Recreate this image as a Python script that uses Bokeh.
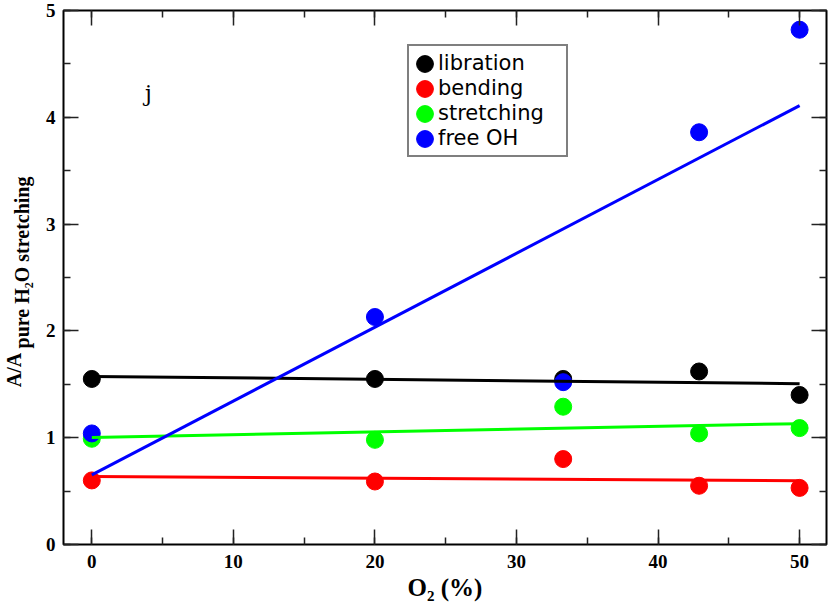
import numpy as np
from bokeh.plotting import figure
from bokeh.models import (Label, Legend, LegendItem, Range1d, LinearAxis,
                          SingleIntervalTicker)
from bokeh.embed import file_html
from bokeh.resources import INLINE

# ---- data ----
o2_percent = [0, 20, 33.3, 42.9, 50]
libration = [1.55, 1.55, 1.55, 1.62, 1.40]
bending = [0.60, 0.59, 0.80, 0.55, 0.53]
stretching = [0.99, 0.98, 1.29, 1.04, 1.09]
free_oh = [1.04, 2.13, 1.52, 3.86, 4.82]

series_names = ["libration", "bending", "stretching", "free OH"]
series_values = [libration, bending, stretching, free_oh]
series_colors = ["#000000", "#ff0000", "#00ff00", "#0000ff"]

x_title = "O\u2082 (%)"
y_title_main = "A/A"
y_title_sub = "pure H\u2082O stretching"

NBSP = "\u00a0"

p = figure(width=830, height=606,
           x_range=Range1d(-2, 51.9), y_range=Range1d(0, 5),
           output_backend="svg", toolbar_location=None,
           min_border_left=63, min_border_right=4,
           min_border_top=10, min_border_bottom=62)
p.background_fill_color = "white"
p.border_fill_color = "white"
p.grid.visible = False
p.outline_line_color = "black"
p.outline_line_width = 2

# mirrored axes (ticks only)
p.add_layout(LinearAxis(), "above")
p.add_layout(LinearAxis(), "right")

for ax in p.axis:
    ax.axis_line_color = None
    ax.major_tick_in = 15
    ax.major_tick_out = 0
    ax.minor_tick_in = 7
    ax.minor_tick_out = 0
    ax.major_tick_line_color = "#222222"
    ax.minor_tick_line_color = "#222222"
    ax.major_tick_line_width = 1.5
    ax.minor_tick_line_width = 1.5
    ax.major_label_text_font = "Liberation Serif"
    ax.major_label_text_font_style = "bold"
    ax.major_label_text_font_size = "19px"
    ax.major_label_text_color = "black"
    ax.axis_label_text_font = "Liberation Serif"
    ax.axis_label_text_font_style = "bold"
    ax.axis_label_text_color = "black"

for ax in p.xaxis:
    ax.ticker = SingleIntervalTicker(interval=10, num_minor_ticks=2)
for ax in p.yaxis:
    ax.ticker = SingleIntervalTicker(interval=1, num_minor_ticks=2)

for ax in (p.above[0], p.right[0]):
    ax.major_label_text_font_size = "1px"
    ax.major_label_text_color = None
    ax.major_label_standoff = 0

# bottom axis title
xb = p.below[0]
xb.major_label_standoff = 10
xb.axis_label = x_title
xb.axis_label_text_font_size = "25px"
xb.axis_label_standoff = 3

# left axis title: main part on the first line, subscript part on the second
yl = p.left[0]
yl.major_label_standoff = 8
yl.axis_label = (y_title_main + NBSP * 37 + "\n"
                 + NBSP * 8 + y_title_sub + NBSP * 2)
yl.axis_label_text_font_size = "20px"
yl.axis_label_text_line_height = 0.35
yl.axis_label_standoff = 10

# points (screen-sized circles)
renderers = []
for name, vals, col in zip(series_names, series_values, series_colors):
    r = p.ellipse(o2_percent, vals, width=17, height=17,
                  width_units="screen", height_units="screen",
                  fill_color=col, line_color=col)
    renderers.append(r)

# linear fits of each series
xa = np.array(o2_percent)
for vals, col in zip(series_values, series_colors):
    k, b = np.polyfit(xa, np.array(vals), 1)
    xs = [xa.min(), xa.max()]
    p.line(xs, [k * xs[0] + b, k * xs[1] + b], line_color=col, line_width=3)

legend = Legend(items=[LegendItem(label=n, renderers=[r])
                       for n, r in zip(series_names, renderers)],
                location=(344, 387))
legend.label_text_font = "DejaVu Sans"
legend.label_text_font_size = "21px"
legend.label_text_color = "black"
legend.padding = 5
legend.margin = 0
legend.spacing = 1
legend.label_standoff = 3
legend.glyph_width = 21
legend.glyph_height = 21
legend.label_height = 21
legend.label_width = 123
legend.border_line_color = "black"
legend.border_line_width = 2
legend.background_fill_color = "white"
legend.background_fill_alpha = 1
p.add_layout(legend)

# panel letter
p.add_layout(Label(x=4, y=4.22, text="j", text_font="DejaVu Serif",
                   text_font_size="22px", text_align="center",
                   text_baseline="alphabetic", text_color="black"))

open("out.html", "w").write(file_html(p, INLINE))
